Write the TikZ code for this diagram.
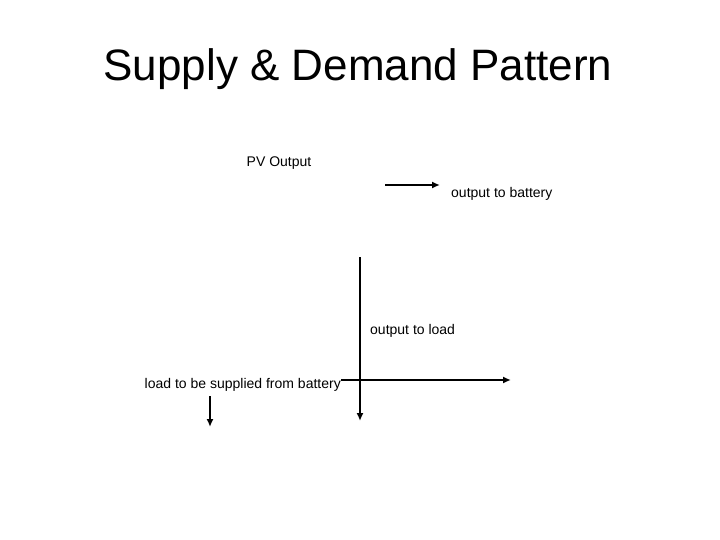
\documentclass[tikz,border=0pt]{standalone}
\usepackage{fontspec}
\setmainfont{Liberation Sans}
\usetikzlibrary{
    positioning,
    arrows.meta
}

\begin{document}
\begin{tikzpicture}[x=1pt, y=-1pt, >={Latex[length=8pt,width=7pt]}]
            \useasboundingbox (0,0) rectangle (720,540);
            % title
            \node (Title) at (358, 69) {\fontsize{44}{52}\selectfont Supply \& Demand Pattern};
            
            % labels
            \node[font=\fontsize{14}{16}\selectfont] (PV) at (279, 163) {PV Output};
            \node[font=\fontsize{14}{16}\selectfont, anchor=west, inner sep=0pt] (Battery) at (451, 194) {output to battery};
            \node[font=\fontsize{14}{16}\selectfont, anchor=west, inner sep=0pt] (Load) at (370, 331) {output to load};
            \node[font=\fontsize{14}{16}\selectfont, anchor=east, inner sep=0pt] (Supplied) at (341, 385) {load to be supplied from battery};
            
            % arrow to battery
            \coordinate (BatStart) at (385, 185);
            \coordinate (BatEnd) at (440, 185);
            \draw[->, line width=2pt] (BatStart) -- (BatEnd);
            
            % axes
            \coordinate (AxTop) at (360, 257);
            \coordinate (AxBottom) at (360, 421);
            \coordinate (AxRight) at (511, 380);
            \draw[->, line width=2pt] (AxTop) -- (AxBottom);
            \draw[->, line width=2pt] (Supplied.east |- AxRight) -- (AxRight);
            
            % small arrow down
            \coordinate (DownTop) at (210, 396);
            \coordinate (DownEnd) at (210, 427);
            \draw[->, line width=2pt] (DownTop) -- (DownEnd);
        \end{tikzpicture}
\end{document}
